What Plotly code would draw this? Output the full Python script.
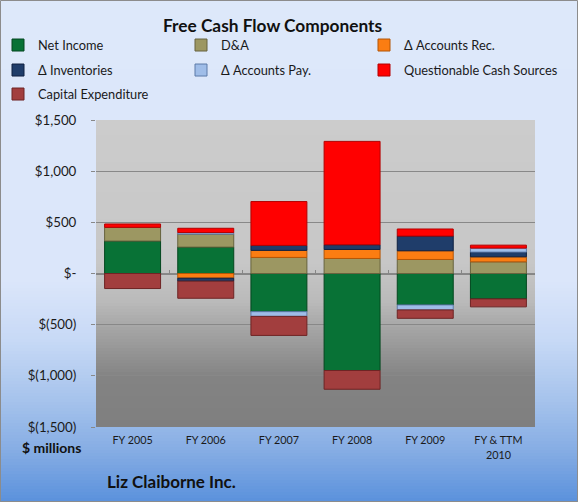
import plotly.graph_objects as go

# ---------------- data ----------------
categories = ["FY 2005", "FY 2006", "FY 2007", "FY 2008", "FY 2009", "FY & TTM<br>2010"]
net_income = [317, 258, -373, -948, -307, -248]
dep_amort = [134, 127, 157, 147, 137, 114]
delta_ar = [None, -46, 69, 88, 85, 49]
delta_inv = [None, -29, 49, 46, 144, 46]
delta_ap = [None, 15, -46, None, -49, 39]
questionable = [33, 42, 428, 1010, 69, 29]
capex = [-147, -167, -186, -183, -82, -78]

y_ticks = [1500, 1000, 500, 0, -500, -1000, -1500]
y_labels = ["$1,500", "$1,000", "$500", "$-", "$(500)", "$(1,000)", "$(1,500)"]

series_names = ["Net Income", "D&A", "Δ Accounts Rec.", "Δ Inventories",
                "Δ Accounts Pay.", "Questionable Cash Sources", "Capital Expenditure"]
series_values = [net_income, dep_amort, delta_ar, delta_inv, delta_ap, questionable, capex]

# ---------------- styling ----------------
W, H = 578, 502
L, R, T, B = 96, 535, 120, 427
FONT = "Lato, 'Open Sans', 'DejaVu Sans', sans-serif"

fills = ["#087236", "#9c9762", "#fb7d12", "#1f3d6a", "#9fbde8", "#ff0000", "#a23e3e"]
edges = ["#04471f", "#67633e", "#b35607", "#0f2040", "#5c7aa8", "#b30000", "#6e2424"]
# legend text positions (px): left of text, row centre
legend_pos = [(38, 45), (221, 45), (404, 45), (38, 70), (221, 70), (404, 70), (38, 94)]


def fx(px):
    return (px - L) / (R - L)


def fy(py):
    return (B - py) / (B - T)


def interp(stops, y):
    for (y0, c0), (y1, c1) in zip(stops[:-1], stops[1:]):
        if y0 <= y <= y1:
            t = (y - y0) / (y1 - y0) if y1 > y0 else 0
            if isinstance(c0, tuple):
                return tuple(round(a + (b - a) * t) for a, b in zip(c0, c1))
            return round(c0 + (c1 - c0) * t)
    return stops[-1][1]


shapes = []
# outer chart-area gradient
outer_stops = [(0, (221, 232, 250)), (280, (219, 230, 250)), (340, (199, 217, 246)),
               (400, (166, 195, 236)), (450, (134, 173, 228)), (502, (90, 145, 220))]
step = 3
for y in range(0, H, step):
    r, g, b = interp(outer_stops, y + step / 2)
    shapes.append(dict(type="rect", xref="paper", yref="paper", layer="below",
                       x0=fx(0), x1=fx(W), y0=fy(y), y1=fy(min(H, y + step + 1)),
                       fillcolor=f"rgb({r},{g},{b})", line=dict(width=0)))
# plot-area gray gradient
plot_stops = [(T, 204), (262, 199), (300, 187), (325, 168), (350, 150), (377, 131), (B, 127)]
for y in range(T, B, step):
    v = interp(plot_stops, y + step / 2)
    shapes.append(dict(type="rect", xref="paper", yref="paper", layer="below",
                       x0=0, x1=1, y0=fy(y), y1=fy(min(B, y + step + 1)),
                       fillcolor=f"rgb({v},{v},{v})", line=dict(width=0)))
# chart border
shapes.append(dict(type="rect", xref="paper", yref="paper", layer="below",
                   x0=fx(0.5), x1=fx(W - 0.5), y0=fy(0.5), y1=fy(H - 0.5),
                   line=dict(color="#8c8c8c", width=1)))

fig = go.Figure()
legend_layouts = {}
for i, (name, vals) in enumerate(zip(series_names, series_values)):
    lg = "legend" if i == 0 else f"legend{i + 1}"
    fig.add_trace(go.Bar(
        name=name, x=categories, y=vals, legend=lg,
        marker=dict(color=fills[i], line=dict(color=edges[i], width=1)),
    ))
    tx, ty = legend_pos[i]
    legend_layouts[lg] = dict(
        x=fx(tx - 40), y=fy(ty - 14.8), xanchor="left", yanchor="top",
        bgcolor="rgba(0,0,0,0)", borderwidth=0,
        font=dict(family=FONT, size=12.8, color="#1a1a1a"),
    )

fig.update_layout(
    width=W, height=H,
    margin=dict(l=L, r=W - R, t=T, b=H - B, pad=0, autoexpand=False),
    paper_bgcolor="rgb(221,232,250)",
    plot_bgcolor="rgba(0,0,0,0)",
    barmode="relative",
    bargap=0.235,
    showlegend=True,
    shapes=shapes,
    font=dict(family=FONT, color="#1a1a1a"),
    xaxis=dict(
        type="category", anchor="free", position=0.5,
        showline=True, linecolor="#868686", linewidth=1,
        ticks="inside", ticklen=4, tickcolor="#868686", tickson="boundaries",
        ticklabelstandoff=157, showgrid=False, layer="below traces",
        tickfont=dict(family=FONT, size=10.8, color="#1a1a1a"),
        fixedrange=True, automargin=False,
    ),
    yaxis=dict(
        range=[-1500, 1500], tickmode="array", tickvals=y_ticks, ticktext=y_labels,
        showgrid=True, gridcolor="#888888", gridwidth=1, zeroline=False,
        ticks="outside", ticklen=4, tickcolor="#888888", ticklabelstandoff=12,
        tickfont=dict(family=FONT, size=13.3, color="#1a1a1a"),
        fixedrange=True, automargin=False,
    ),
    annotations=[
        dict(text="<b>Free Cash Flow Components</b>", xref="paper", yref="paper",
             x=fx(272.5), y=fy(25), xanchor="center", yanchor="middle", showarrow=False,
             font=dict(family=FONT, size=17.3, color="#111111")),
        dict(text="<b>$ millions</b>", xref="paper", yref="paper",
             x=fx(51), y=fy(447), xanchor="center", yanchor="middle", showarrow=False,
             font=dict(family=FONT, size=14, color="#111111")),
        dict(text="<b>Liz Claiborne Inc.</b>", xref="paper", yref="paper",
             x=fx(105), y=fy(481), xanchor="left", yanchor="middle", showarrow=False,
             font=dict(family=FONT, size=17, color="#111111")),
    ],
)
fig.update_layout(**legend_layouts)

fig.write_html("out.html")
